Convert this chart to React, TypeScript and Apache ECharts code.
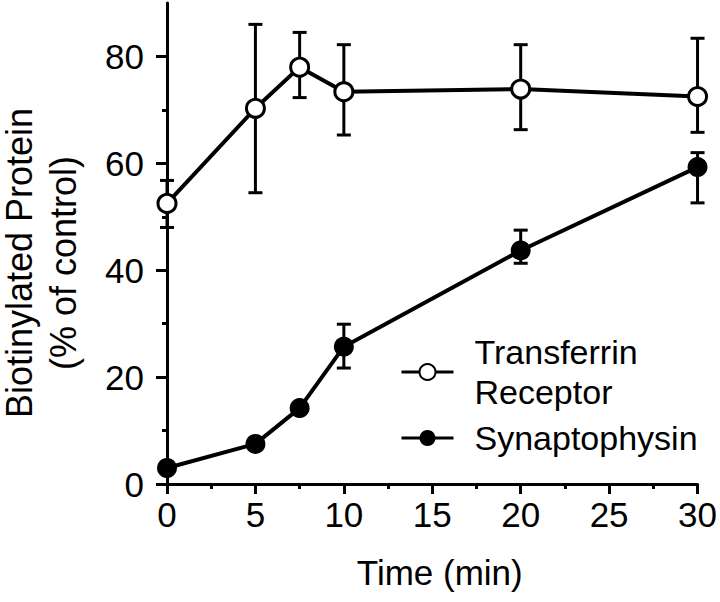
import React, { useEffect, useRef } from "react";
import * as echarts from "echarts";

const times = [0, 5, 7.5, 10, 20, 30];
const transferrin = [52.5, 70.3, 78.0, 73.4, 73.9, 72.5];
const transferrinLow = [48.0, 54.5, 72.3, 65.3, 66.3, 65.8];
const transferrinHigh = [56.8, 86.0, 84.5, 82.2, 82.2, 83.4];
const synaptophysin = [3.0, 7.5, 14.2, 25.7, 43.7, 59.3];
const synaptophysinLow: (number | null)[] = [null, null, null, 21.7, 41.3, 52.6];
const synaptophysinHigh: (number | null)[] = [null, null, null, 29.9, 47.5, 62.0];
const xTicks = [0, 5, 10, 15, 20, 25, 30];
const yMajorTicks = [0, 20, 40, 60, 80];
const yMinorTicks = [10, 30, 50, 70];

const FONT = "Liberation Sans, Arial, Helvetica, sans-serif";

function errData(low: (number | null)[], high: (number | null)[]) {
  const out: number[][] = [];
  times.forEach((t, i) => {
    if (low[i] != null && high[i] != null) out.push([t, low[i] as number, high[i] as number]);
  });
  return out;
}

function renderErr(params: any, api: any) {
  const x = api.value(0);
  const lo = api.coord([x, api.value(1)]);
  const hi = api.coord([x, api.value(2)]);
  const hw = 7;
  const style = { stroke: "#000", lineWidth: 3, fill: "none" };
  return {
    type: "group",
    children: [
      { type: "line", shape: { x1: lo[0], y1: lo[1], x2: hi[0], y2: hi[1] }, style },
      { type: "line", shape: { x1: lo[0] - hw, y1: lo[1], x2: lo[0] + hw, y2: lo[1] }, style },
      { type: "line", shape: { x1: hi[0] - hw, y1: hi[1], x2: hi[0] + hw, y2: hi[1] }, style },
    ],
  };
}

export default function App() {
  const ref = useRef<HTMLDivElement>(null);
  useEffect(() => {
    if (!ref.current) return;
    const chart = echarts.init(ref.current, null, { renderer: "svg" });
    const axisLine = { show: true, lineStyle: { color: "#000", width: 3 } };
    chart.setOption({
      animation: false,
      backgroundColor: "#fff",
      textStyle: { fontFamily: FONT, color: "#000" },
      grid: { left: 167, right: 20, top: 3, bottom: 118, containLabel: false },
      legend: {
        orient: "vertical",
        left: 400,
        top: 332,
        padding: 0,
        itemGap: 6,
        itemWidth: 52,
        itemHeight: 20,
        selectedMode: false,
        data: ["Transferrin\nReceptor", "Synaptophysin"],
        lineStyle: { width: 3 },
        textStyle: { fontFamily: FONT, fontSize: 34, lineHeight: 40, color: "#000", padding: [0, 0, 0, 16] },
      },
      xAxis: {
        type: "value",
        min: 0,
        max: 30,
        interval: 5,
        name: "Time (min)",
        nameLocation: "middle",
        nameGap: 71,
        nameTextStyle: { fontFamily: FONT, fontSize: 35, color: "#000", padding: [0, 0, 0, 15] },
        axisLine: { ...axisLine, onZero: false },
        axisTick: { show: true, length: 10, lineStyle: { color: "#000", width: 3 } },
        minorTick: { show: true, splitNumber: 2, length: 5, lineStyle: { color: "#000", width: 3 } },
        axisLabel: {
          fontFamily: FONT, fontSize: 35, color: "#000", margin: 13,
          formatter: (v: number) => (xTicks.includes(v) ? String(v) : ""),
        },
        splitLine: { show: false },
      },
      yAxis: [
        {
          type: "value",
          min: 0,
          max: 90,
          interval: 10,
          axisLine: { ...axisLine, onZero: false },
          axisTick: { show: true, length: 11, customValues: yMajorTicks, lineStyle: { color: "#000", width: 3 } },
          axisLabel: {
            fontFamily: FONT, fontSize: 35, color: "#000", margin: 23,
            customValues: yMajorTicks,
            formatter: (v: number) => (yMajorTicks.includes(v) ? String(v) : ""),
          },
          splitLine: { show: false },
        },
        {
          type: "value",
          min: 0,
          max: 90,
          interval: 10,
          position: "left",
          axisLine: { show: false },
          axisTick: { show: true, length: 5, customValues: yMinorTicks, lineStyle: { color: "#000", width: 3 } },
          axisLabel: { show: false },
          splitLine: { show: false },
        },
      ],
      graphic: [
        {
          type: "text",
          x: 19,
          y: 263,
          rotation: Math.PI / 2,
          style: { text: "Biotinylated Protein", font: `36px ${FONT}`, fill: "#000", align: "center", verticalAlign: "middle" },
        },
        {
          type: "text",
          x: 63,
          y: 263,
          rotation: Math.PI / 2,
          style: { text: "(% of control)", font: `36px ${FONT}`, fill: "#000", align: "center", verticalAlign: "middle" },
        },
      ],
      series: [
        {
          type: "custom",
          name: "err1",
          renderItem: renderErr,
          data: errData(transferrinLow, transferrinHigh),
          encode: { x: 0, y: [1, 2] },
          clip: false,
          z: 1,
        },
        {
          type: "custom",
          name: "err2",
          renderItem: renderErr,
          data: errData(synaptophysinLow, synaptophysinHigh),
          encode: { x: 0, y: [1, 2] },
          clip: false,
          z: 1,
        },
        {
          type: "line",
          name: "Transferrin\nReceptor",
          data: times.map((t, i) => [t, transferrin[i]]),
          symbol: "circle",
          symbolSize: 18,
          clip: false,
          z: 3,
          lineStyle: { color: "#000", width: 4 },
          itemStyle: { color: "#fff", borderColor: "#000", borderWidth: 3 },
        },
        {
          type: "line",
          name: "Synaptophysin",
          data: times.map((t, i) => [t, synaptophysin[i]]),
          symbol: "circle",
          symbolSize: 20,
          clip: false,
          z: 3,
          lineStyle: { color: "#000", width: 4 },
          itemStyle: { color: "#000", borderColor: "#000", borderWidth: 0 },
        },
      ],
    });
    return () => chart.dispose();
  }, []);
  return <div ref={ref} style={{ width: 720, height: 602, position: "absolute", left: 0, top: 0 }} />;
}
